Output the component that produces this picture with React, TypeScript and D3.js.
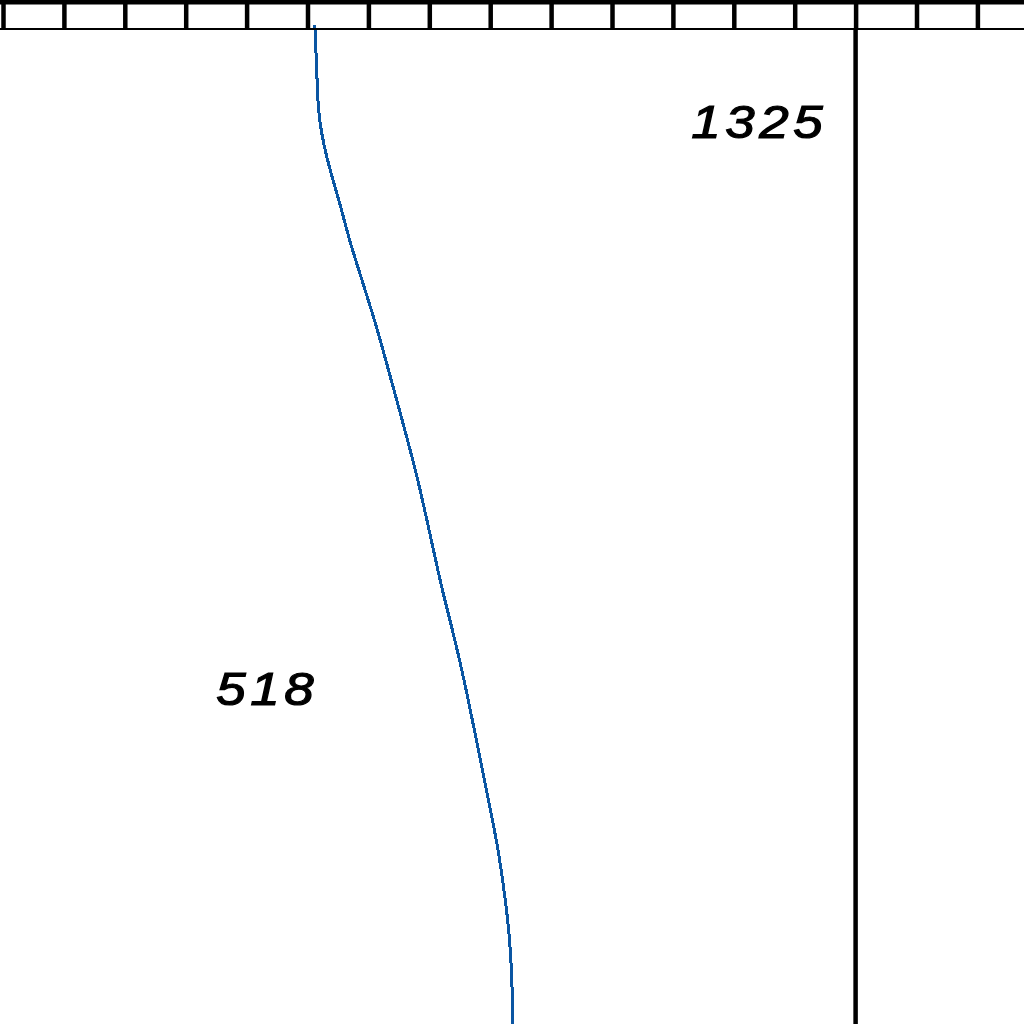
import React, { useEffect, useRef } from 'react';
import * as d3 from 'd3';

// depth below the scale bar and the curve value at that depth
const depths = [0, 40, 82, 105, 132, 168, 185, 218, 252, 285, 318, 352, 385, 428, 462, 495, 528, 562, 595, 638, 672, 705, 738, 772, 802, 828, 862, 895, 928, 982, 999];
const values = [512, 515, 517, 522, 531, 548, 556, 570, 588, 605, 621, 636, 651, 670, 684, 696, 708, 720, 734, 751, 763, 774, 785, 796, 806, 814, 822, 829, 834, 837, 837];

// scale bar ticks and the marker line
const scaleMax = 1600;
const tickStep = 100;
const markerValue = 1400;

// annotations: text, value where the text starts, depth of baseline
const labelTexts = ['1325', '518'];
const labelValues = [1130, 350];
const labelDepths = [113, 680];

const W = 1024;
const H = 1024;

const App = () => {
  const svgRef = useRef<SVGSVGElement | null>(null);

  useEffect(() => {
    const svg = d3.select(svgRef.current);
    svg.selectAll('*').remove();

    const bandTop = 0;
    const bandBottom = 29;

    const x = d3.scaleLinear().domain([0, scaleMax]).range([3, 977.4]);
    const y = d3.scaleLinear().domain([0, 1000]).range([bandBottom - 4, 1025]);

    svg.append('rect').attr('width', W).attr('height', H).attr('fill', '#ffffff');

    // blue curve
    const pts = depths.map((d, i) => [values[i], d] as [number, number]);
    const line = d3
      .line<[number, number]>()
      .x(d => x(d[0]))
      .y(d => y(d[1]))
      .curve(d3.curveBasis);

    svg
      .append('path')
      .datum(pts)
      .attr('d', line)
      .attr('fill', 'none')
      .attr('stroke', '#0a56a3')
      .attr('stroke-width', 3)
      .attr('shape-rendering', 'crispEdges');

    // marker line
    svg
      .append('line')
      .attr('x1', x(markerValue))
      .attr('x2', x(markerValue))
      .attr('y1', bandBottom)
      .attr('y2', H)
      .attr('stroke', '#000')
      .attr('stroke-width', 4.5);

    // scale bar along the top
    const axis = d3
      .axisTop(x)
      .tickValues(d3.range(0, scaleMax + 1, tickStep))
      .tickSize(bandBottom - bandTop)
      .tickSizeOuter(0)
      .tickFormat(() => '');

    const g = svg.append('g').attr('transform', `translate(0,${bandBottom})`).call(axis);
    g.select('.domain').remove();
    g.selectAll('.tick line').attr('stroke', '#000').attr('stroke-width', 4.5);

    svg.append('rect').attr('x', 0).attr('y', 0).attr('width', W).attr('height', 4.5).attr('fill', '#000');
    svg
      .append('line')
      .attr('x1', 0)
      .attr('x2', W)
      .attr('y1', bandBottom)
      .attr('y2', bandBottom)
      .attr('stroke', '#000')
      .attr('stroke-width', 2);

    // annotations (stretched a bit, the original face is wide)
    svg
      .selectAll('text.lbl')
      .data(labelTexts)
      .enter()
      .append('text')
      .attr('class', 'lbl')
      .attr('transform', (d, i) => `translate(${x(labelValues[i])},${y(labelDepths[i])}) scale(1.15,1)`)
      .attr('font-family', '"Liberation Sans", Arial, sans-serif')
      .attr('font-style', 'italic')
      .attr('font-size', 46)
      .attr('letter-spacing', 4)
      .attr('fill', '#000')
      .attr('stroke', '#000')
      .attr('stroke-width', 1.2)
      .text(d => d);
  }, []);

  return (
    <svg
      ref={svgRef}
      width={W}
      height={H}
      style={{ position: 'absolute', left: 0, top: 0, display: 'block' }}
    />
  );
};

export default App;
